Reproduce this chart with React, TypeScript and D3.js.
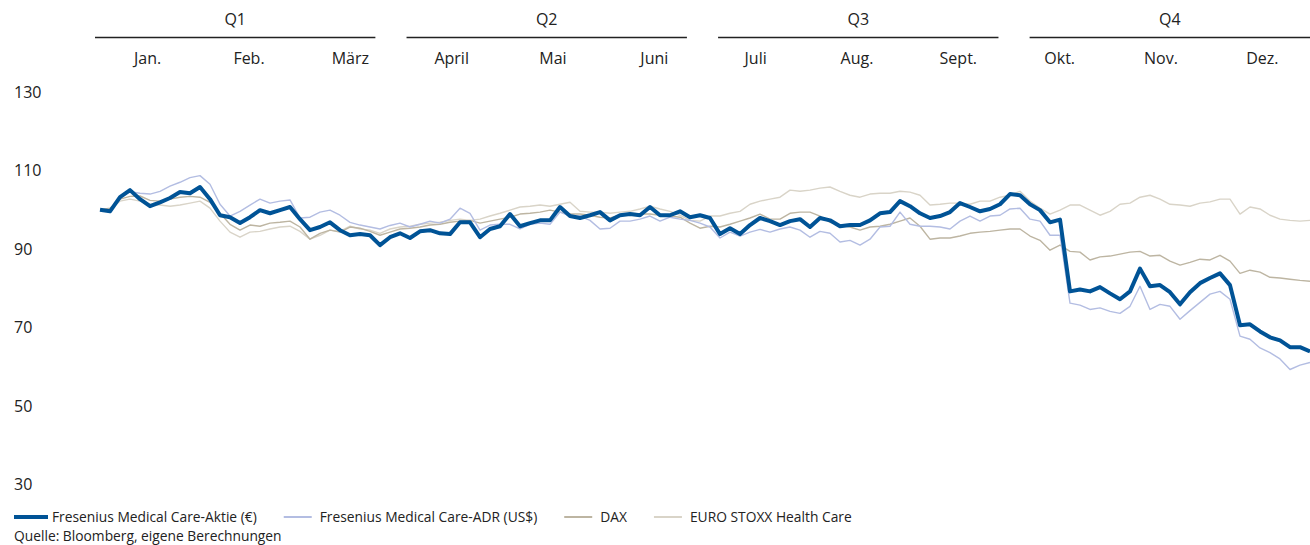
import React, { useEffect, useRef } from 'react';
import * as d3 from 'd3';

const quarters = ['Q1', 'Q2', 'Q3', 'Q4'];
const months = ['Jan.', 'Feb.', 'März', 'April', 'Mai', 'Juni', 'Juli', 'Aug.', 'Sept.', 'Okt.', 'Nov.', 'Dez.'];
const yTicks = [30, 50, 70, 90, 110, 130];

// Indexed to 100 at the start of the year, sampled roughly every 3 trading days
const fmeAktie = [
  100, 99.6, 103.2, 105.0, 102.7, 100.9, 101.9, 103.0, 104.5, 104.2,
  105.8, 102.7, 98.6, 98.1, 96.6, 98.1, 99.9, 99.1, 99.9, 100.7,
  97.6, 94.8, 95.6, 96.8, 94.8, 93.5, 93.8, 93.5, 91.0, 93.0,
  94.0, 92.8, 94.5, 94.8, 94.0, 93.8, 96.8, 96.8, 93.0, 95.1,
  95.8, 98.9, 95.8, 96.6, 97.3, 97.3, 100.7, 98.4, 97.9, 98.6,
  99.4, 97.3, 98.6, 98.9, 98.6, 100.7, 98.6, 98.6, 99.6, 98.1,
  98.6, 97.9, 93.8, 95.3, 93.8, 96.1, 97.9, 97.1, 96.1, 97.1,
  97.6, 95.6, 97.9, 97.3, 95.8, 96.1, 96.1, 97.3, 99.1, 99.4,
  102.2, 100.9, 99.1, 97.9, 98.4, 99.4, 101.7, 100.7, 99.6, 100.2,
  101.4, 104.0, 103.7, 101.4, 99.9, 96.8, 97.5, 79.2, 79.7, 79.2,
  80.3, 78.7, 77.2, 79.2, 85.0, 80.5, 80.8, 79.0, 75.9, 79.0,
  81.3, 82.6, 83.8, 80.8, 70.6, 70.8, 69.0, 67.5, 66.7, 65.0,
  65.0, 63.9,
];

const fmeAdr = [
  100, 99.8, 103.0, 104.6, 104.2, 104.0, 104.7, 106.0, 107.0, 108.2,
  108.7, 106.5, 101.4, 98.4, 99.6, 101.2, 102.7, 101.7, 102.2, 102.5,
  97.9, 98.1, 99.4, 99.9, 98.6, 96.8, 96.1, 95.6, 95.1, 96.0,
  96.6, 95.6, 96.3, 97.1, 96.6, 97.6, 100.4, 99.1, 94.8, 96.1,
  96.3, 96.3, 95.1, 96.3, 96.6, 96.3, 99.4, 98.4, 98.4, 97.3,
  95.1, 95.3, 97.1, 97.1, 97.6, 98.4, 97.1, 98.1, 97.6, 97.3,
  96.6, 95.6, 92.8, 94.3, 93.3, 94.3, 95.0, 94.3, 95.1, 95.6,
  94.8, 93.0, 94.5, 94.0, 91.8, 92.2, 91.0, 92.5, 95.6, 95.8,
  99.4, 96.3, 95.8, 95.8, 95.6, 95.1, 97.1, 98.4, 97.1, 98.4,
  98.6, 100.2, 100.4, 97.6, 97.1, 93.5, 93.5, 76.2, 75.7, 74.6,
  75.0, 74.1, 73.6, 75.4, 80.5, 74.6, 75.9, 75.4, 72.1, 74.3,
  76.4, 78.5, 79.2, 77.2, 67.8, 67.0, 64.8, 63.6, 62.0, 59.3,
  60.4, 61.1,
];

const dax = [
  100, 100.4, 102.7, 103.4, 103.5, 102.4, 102.2, 102.7, 103.2, 103.4,
  103.2, 101.9, 99.1, 96.3, 94.8, 96.1, 95.8, 96.6, 96.8, 97.1,
  95.6, 92.5, 94.0, 94.8, 94.3, 95.6, 95.3, 94.5, 93.5, 94.3,
  95.1, 95.3, 95.6, 96.1, 96.3, 96.8, 97.1, 97.3, 96.6, 97.1,
  97.6, 98.1, 98.9, 99.1, 99.4, 99.9, 99.4, 98.9, 98.9, 98.6,
  98.1, 97.9, 98.6, 99.1, 98.9, 98.9, 98.6, 98.4, 98.1, 96.6,
  95.3, 95.8, 95.6, 96.3, 97.1, 97.9, 98.9, 97.6, 97.6, 99.1,
  99.4, 99.4, 98.4, 96.8, 96.1, 95.6, 94.8, 95.6, 95.8, 96.3,
  97.1, 97.9, 95.8, 92.5, 92.8, 92.8, 93.3, 94.0, 94.3, 94.5,
  94.8, 95.1, 95.1, 93.3, 92.2, 89.7, 91.0, 89.4, 89.2, 87.2,
  88.0, 88.2, 88.7, 89.2, 89.4, 88.2, 88.4, 86.9, 85.9, 86.6,
  87.4, 87.2, 88.4, 86.9, 83.8, 84.6, 84.1, 82.8, 82.6, 82.3,
  82.0, 81.8,
];

const euroStoxxHc = [
  100, 100.2, 102.2, 102.7, 102.2, 101.4, 101.2, 100.9, 101.2, 101.7,
  102.2, 100.4, 97.1, 94.3, 93.0, 94.3, 94.5, 95.1, 95.6, 95.8,
  94.5, 92.5, 93.5, 94.8, 94.5, 95.8, 95.1, 94.8, 94.0, 95.1,
  95.6, 95.8, 96.3, 96.6, 96.8, 97.3, 97.6, 97.3, 97.6, 98.4,
  99.1, 99.9, 100.7, 100.9, 101.2, 100.9, 101.4, 101.9, 99.6, 99.4,
  99.4, 99.1, 99.4, 99.6, 100.2, 100.9, 100.2, 99.6, 98.6, 97.3,
  97.1, 98.4, 98.4, 99.1, 99.6, 101.4, 102.2, 102.7, 103.2, 105.0,
  104.7, 105.0, 105.5, 105.8, 104.7, 103.7, 103.2, 104.0, 104.2, 104.2,
  104.7, 104.5, 103.7, 101.2, 101.4, 101.7, 101.7, 101.4, 102.2, 102.2,
  103.2, 103.7, 104.7, 102.2, 100.4, 98.9, 99.9, 101.2, 101.2, 99.9,
  98.6, 99.6, 101.4, 101.7, 103.2, 103.7, 102.7, 101.4, 101.2, 100.9,
  101.7, 102.0, 102.7, 102.7, 98.9, 100.7, 100.2, 98.6, 97.6, 97.3,
  97.1, 97.3,
];

const seriesNames = [
  'Fresenius Medical Care-Aktie (€)',
  'Fresenius Medical Care-ADR (US$)',
  'DAX',
  'EURO STOXX Health Care',
];

const FONT = '"Open Sans", sans-serif';

const App = () => {
  const ref = useRef<SVGSVGElement>(null);

  useEffect(() => {
    const width = 1310;
    const height = 545;
    const svg = d3.select(ref.current);
    svg.selectAll('*').remove();
    svg.attr('width', width).attr('height', height);

    const series = [
      { name: seriesNames[3], values: euroStoxxHc, color: '#d9d4c8', w: 1.4 },
      { name: seriesNames[2], values: dax, color: '#bdb5a2', w: 1.4 },
      { name: seriesNames[1], values: fmeAdr, color: '#b3bde2', w: 1.4 },
      { name: seriesNames[0], values: fmeAktie, color: '#005396', w: 4 },
    ];

    const x = d3.scaleLinear().domain([0, fmeAktie.length - 1]).range([100, 1310]);
    const y = d3.scaleLinear().domain([30, 130]).range([484.5, 92]);

    const qScale = d3.scaleBand().domain(quarters).range([95, 1310]).paddingInner(0.1);
    const mScale = d3.scaleBand().domain(months).range([97, 1313]);

    // header: quarters with rules, months below
    const head = svg.append('g').attr('font-family', FONT).attr('fill', '#222');
    head.selectAll('line.q')
      .data(quarters)
      .join('line')
      .attr('class', 'q')
      .attr('x1', d => qScale(d)!)
      .attr('x2', d => qScale(d)! + qScale.bandwidth())
      .attr('y1', 37.5)
      .attr('y2', 37.5)
      .attr('stroke', '#222')
      .attr('stroke-width', 1.5);
    head.selectAll('text.q')
      .data(quarters)
      .join('text')
      .attr('class', 'q')
      .attr('x', d => qScale(d)! + qScale.bandwidth() / 2)
      .attr('y', 25)
      .attr('text-anchor', 'middle')
      .attr('font-size', 16)
      .text(d => d);
    head.selectAll('text.m')
      .data(months)
      .join('text')
      .attr('class', 'm')
      .attr('x', d => mScale(d)! + mScale.bandwidth() / 2)
      .attr('y', 64)
      .attr('text-anchor', 'middle')
      .attr('font-size', 16)
      .text(d => d);

    // y labels
    svg.append('g')
      .selectAll('text')
      .data(yTicks)
      .join('text')
      .attr('x', 14)
      .attr('y', d => y(d))
      .attr('dy', '0.35em')
      .attr('font-family', FONT)
      .attr('font-size', 16)
      .attr('fill', '#222')
      .text(d => d);

    const line = d3.line<number>()
      .x((_, i) => x(i))
      .y(d => y(d));

    svg.append('g')
      .selectAll('path')
      .data(series)
      .join('path')
      .attr('d', d => line(d.values))
      .attr('fill', 'none')
      .attr('stroke', d => d.color)
      .attr('stroke-width', d => d.w)
      .attr('stroke-linejoin', 'round');

    // legend
    const legend = svg.append('g').attr('font-family', FONT).attr('font-size', 13.8).attr('fill', '#222');
    const legendItems = [...series].reverse();
    let lx = 14;
    legendItems.forEach((s, i) => {
      const sw = i === 0 ? 34 : 28;
      const pad = i === 0 ? 4 : 8;
      legend.append('line')
        .attr('x1', lx).attr('x2', lx + sw)
        .attr('y1', 517).attr('y2', 517)
        .attr('stroke', s.color)
        .attr('stroke-width', i === 0 ? 4 : 2);
      const t = legend.append('text')
        .attr('x', lx + sw + pad)
        .attr('y', 517)
        .attr('dy', '0.35em')
        .text(s.name);
      const tw = (t.node() as SVGTextElement).getComputedTextLength();
      lx = lx + sw + pad + tw + 27;
    });
    legend.append('text')
      .attr('x', 14)
      .attr('y', 536)
      .attr('dy', '0.35em')
      .text('Quelle: Bloomberg, eigene Berechnungen');
  }, []);

  return (
    <div style={{ position: 'absolute', left: 0, top: 0 }}>
      <svg ref={ref} style={{ display: 'block' }}></svg>
    </div>
  );
};

export default App;
